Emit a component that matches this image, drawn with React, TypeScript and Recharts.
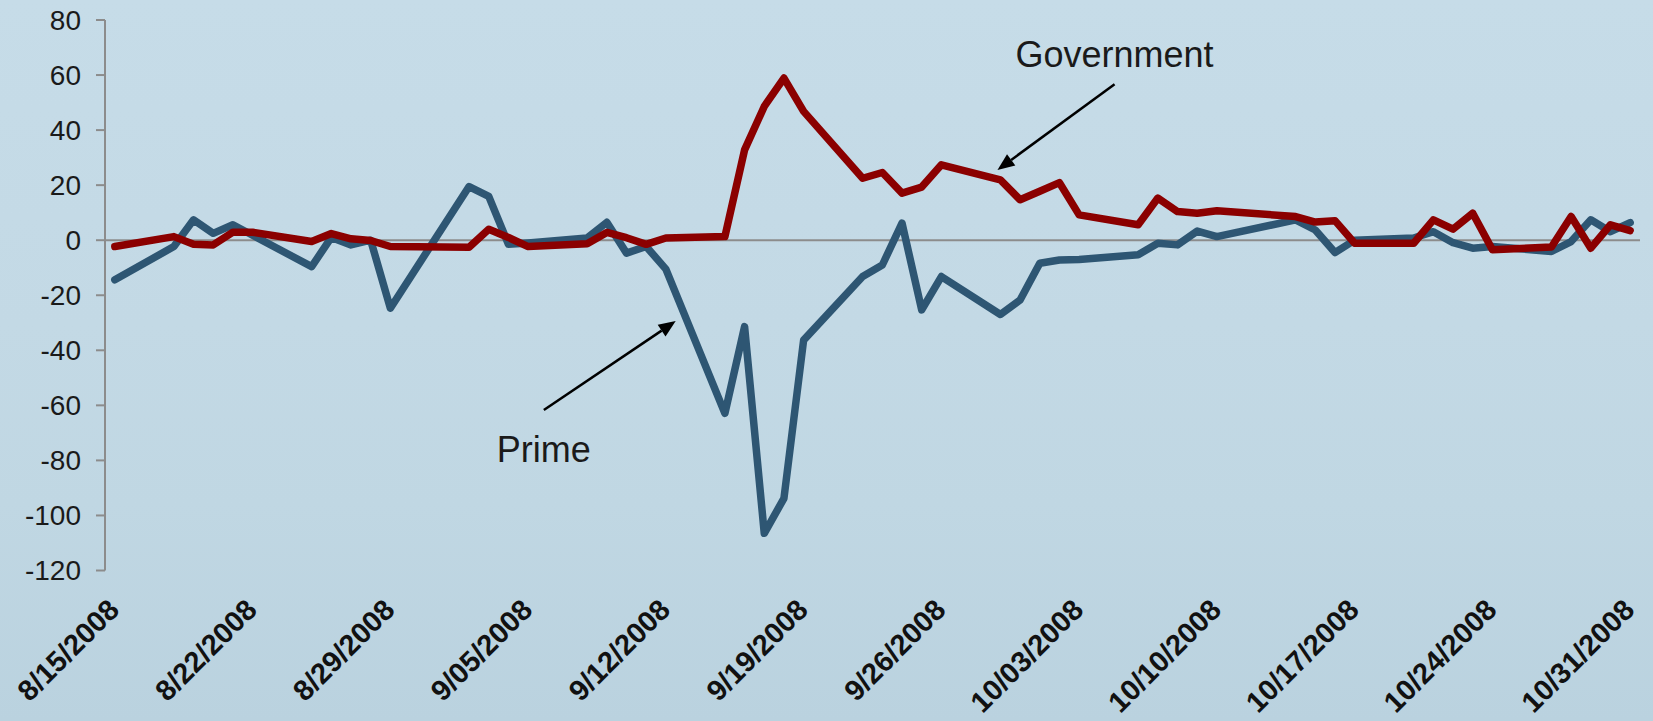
import React from 'react';
import { LineChart, Line, XAxis, YAxis, ReferenceLine } from 'recharts';

// business days, 8/15/2008 - 10/31/2008
const DATES = [
  '2008-08-15', '2008-08-18', '2008-08-19', '2008-08-20', '2008-08-21', '2008-08-22',
  '2008-08-25', '2008-08-26', '2008-08-27', '2008-08-28', '2008-08-29',
  '2008-09-02', '2008-09-03', '2008-09-04', '2008-09-05',
  '2008-09-08', '2008-09-09', '2008-09-10', '2008-09-11', '2008-09-12',
  '2008-09-15', '2008-09-16', '2008-09-17', '2008-09-18', '2008-09-19',
  '2008-09-22', '2008-09-23', '2008-09-24', '2008-09-25', '2008-09-26',
  '2008-09-29', '2008-09-30', '2008-10-01', '2008-10-02', '2008-10-03',
  '2008-10-06', '2008-10-07', '2008-10-08', '2008-10-09', '2008-10-10',
  '2008-10-14', '2008-10-15', '2008-10-16', '2008-10-17',
  '2008-10-20', '2008-10-21', '2008-10-22', '2008-10-23', '2008-10-24',
  '2008-10-27', '2008-10-28', '2008-10-29', '2008-10-30', '2008-10-31',
];

const PRIME = [
  -14.4, -2.3, 7.4, 2.5, 5.6, 1.8,
  -9.6, 1.0, -1.7, 0.0, -24.7,
  19.5, 15.9, -1.5, -1.0,
  0.8, 6.5, -4.7, -2.3, -10.5,
  -62.9, -31.4, -106.5, -93.8, -36.3,
  -13.2, -9.0, 6.2, -25.3, -13.2,
  -27.0, -21.7, -8.4, -7.2, -7.0,
  -5.3, -1.1, -1.7, 3.3, 1.3,
  7.4, 3.7, -4.5, 0.0,
  0.8, 3.1, -0.9, -2.9, -2.3,
  -4.1, -0.5, 7.4, 3.1, 6.4,
];

const GOVERNMENT = [
  -2.3, 1.3, -1.5, -1.7, 2.9, 2.9,
  -0.5, 2.4, 0.5, -0.1, -2.3,
  -2.6, 4.0, 1.0, -2.3,
  -1.3, 2.8, 0.9, -1.5, 0.8,
  1.3, 32.8, 48.6, 58.9, 46.8,
  22.5, 24.6, 17.1, 19.3, 27.4,
  21.9, 14.7, 17.8, 20.9, 9.2,
  5.6, 15.3, 10.4, 9.8, 10.7,
  8.6, 6.6, 7.1, -1.1,
  -1.1, 7.4, 4.0, 9.8, -3.5,
  -2.5, 8.6, -2.9, 5.6, 3.5,
];

const TICK_LABELS = [
  '8/15/2008', '8/22/2008', '8/29/2008', '9/05/2008', '9/12/2008', '9/19/2008',
  '9/26/2008', '10/03/2008', '10/10/2008', '10/17/2008', '10/24/2008', '10/31/2008',
];

const Y_TICKS = [-120, -100, -80, -60, -40, -20, 0, 20, 40, 60, 80];

// arrow callouts, in data units (day index, value)
const ANNOTATIONS = [
  { label: 'Government', from: { x: 50.8, y: 56.7 }, to: { x: 44.85, y: 25.5 }, textDy: -17 },
  { label: 'Prime', from: { x: 21.8, y: -61.7 }, to: { x: 28.5, y: -29.4 }, textDy: 52 },
];

const DAY = 86400000;
const start = Date.parse(DATES[0]);
const chartData = DATES.map((d, i) => ({
  day: Math.round((Date.parse(d) - start) / DAY),
  prime: PRIME[i],
  government: GOVERNMENT[i],
}));
const xTicks = TICK_LABELS.map((_, i) => i * 7);

const FONT = '"Liberation Sans", Arial, sans-serif';

const DateTick = (props: any) => {
  const { x, y, payload } = props;
  const label = TICK_LABELS[Math.round(payload.value / 7)];
  const ax = x + 6;
  const ay = y + 41;
  return (
    <text
      x={ax}
      y={ay}
      transform={`rotate(-45, ${ax}, ${ay})`}
      textAnchor="end"
      fontFamily={FONT}
      fontWeight="bold"
      fontSize={29}
      fill="#111"
    >
      {label}
    </text>
  );
};

const makeArrow = (label: string, textDy: number) => (props: any) => {
  const { x1, y1, x2, y2 } = props;
  const ang = Math.atan2(y2 - y1, x2 - x1);
  const len = 17;
  const half = 7;
  const bx = x2 - len * Math.cos(ang);
  const by = y2 - len * Math.sin(ang);
  const px = -Math.sin(ang) * half;
  const py = Math.cos(ang) * half;
  return (
    <g>
      <line x1={x1} y1={y1} x2={bx} y2={by} stroke="#000" strokeWidth={2.5} />
      <polygon points={`${x2},${y2} ${bx + px},${by + py} ${bx - px},${by - py}`} fill="#000" />
      <text x={x1} y={y1 + textDy} textAnchor="middle" fontFamily={FONT} fontSize={36} fill="#1a1a1a">
        {label}
      </text>
    </g>
  );
};

export default function App() {
  return (
    <div
      style={{
        position: 'absolute',
        left: 0,
        top: 0,
        width: 1653,
        height: 721,
        background: 'linear-gradient(180deg, #c6dce8 0%, #c3d9e5 45%, #c0d7e3 70%, #bad2df 100%)',
        overflow: 'hidden',
      }}
    >
      <LineChart
        width={1653}
        height={721}
        data={chartData}
        margin={{ top: 20, right: 13, bottom: 0, left: 5 }}
      >
        <XAxis
          dataKey="day"
          type="number"
          domain={[-0.5, 77.5]}
          ticks={xTicks}
          interval={0}
          axisLine={false}
          tickLine={false}
          tickSize={0}
          tickMargin={0}
          height={150.5}
          tick={<DateTick />}
        />
        <YAxis
          type="number"
          domain={[-120, 80]}
          ticks={Y_TICKS}
          interval={0}
          width={100}
          tickSize={9}
          tickMargin={15}
          axisLine={{ stroke: '#8c8c8c', strokeWidth: 2 }}
          tickLine={{ stroke: '#8c8c8c', strokeWidth: 2 }}
          tick={{ fill: '#1a1a1a', fontSize: 28, fontFamily: FONT }}
        />
        <ReferenceLine y={0} stroke="#8c8c8c" strokeWidth={2} />
        <Line
          dataKey="prime"
          type="linear"
          stroke="#2e5673"
          strokeWidth={7.5}
          strokeLinejoin="round"
          strokeLinecap="round"
          dot={false}
          activeDot={false}
          isAnimationActive={false}
        />
        <Line
          dataKey="government"
          type="linear"
          stroke="#8b0000"
          strokeWidth={7.5}
          strokeLinejoin="round"
          strokeLinecap="round"
          dot={false}
          activeDot={false}
          isAnimationActive={false}
        />
        {ANNOTATIONS.map((a) => (
          <ReferenceLine
            key={a.label}
            segment={[a.from, a.to]}
            ifOverflow="visible"
            shape={makeArrow(a.label, a.textDy)}
          />
        ))}
      </LineChart>
    </div>
  );
}
